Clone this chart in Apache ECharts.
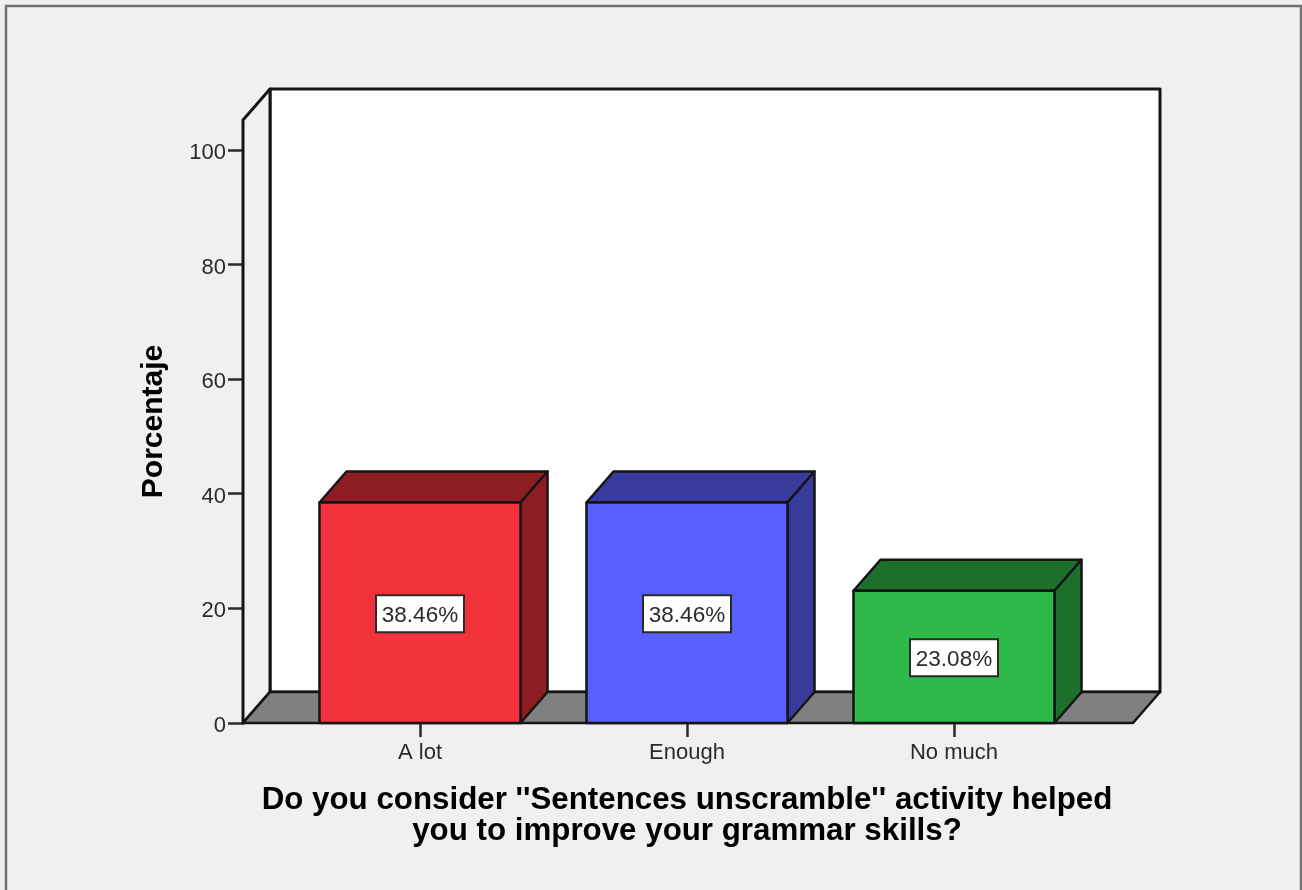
<!DOCTYPE html>
<html>
<head>
<meta charset="utf-8">
<style>
html,body{margin:0;padding:0;background:#f0f0f0;overflow:hidden}
#chart{width:1302px;height:890px}
</style>
<script src="https://cdn.jsdelivr.net/npm/echarts@6/dist/echarts.min.js"></script>
</head>
<body>
<div id="chart"></div>
<script>
// Survey answers, percent of respondents
const categories = ['A lot', 'Enough', 'No much'];
const percentages = [38.46, 38.46, 23.08];
const percentLabels = ['38.46%', '38.46%', '23.08%'];
const yTicks = [0, 20, 40, 60, 80, 100];

// Face colours of each box: front, then the shaded top and side
const frontColors = ['#f2333b', '#5a5fff', '#2fb94a'];
const shadeColors = ['#8e1d22', '#393b9c', '#1d6f2c'];

const xTitle = 'Do you consider \'\'Sentences unscramble\'\' activity helped\nyou to improve your grammar skills?';
const yTitle = 'Porcentaje';

const FONT = '"Liberation Sans", Arial, sans-serif';
const INK = '#2a2a2a';
const DEPTH_X = 27;     // horizontal depth of the oblique projection
const DEPTH_Y = 31;     // vertical depth of the oblique projection
const WALL_LEFT = 243;  // chart box extends past the category band on both sides
const WALL_RIGHT = 1133;
const BAR_RATIO = 0.753;
const TAG_W = 88;
const TAG_H = 37;

function poly(points, fill, width) {
  return {
    type: 'polygon',
    shape: { points: points },
    style: { fill: fill, stroke: '#151515', lineWidth: width, lineJoin: 'round' }
  };
}

// Back wall, side wall and floor of the 3D box
function renderFrame(params, api) {
  const base = api.coord([0, 0])[1];
  const top = params.coordSys.y;
  const l = WALL_LEFT, r = WALL_RIGHT, dx = DEPTH_X, dy = DEPTH_Y;
  return {
    type: 'group',
    children: [
      poly([[l + dx, top - dy], [r + dx, top - dy], [r + dx, base - dy], [l + dx, base - dy]], '#ffffff', 3),
      poly([[l, base], [l + dx, base - dy], [l + dx, top - dy], [l, top]], '#f0f0f0', 3),
      poly([[l, base], [l + dx, base - dy], [r + dx, base - dy], [r, base]], '#808080', 2.5)
    ]
  };
}

// One oblique box per category, with its value tag in the middle of the front face
function renderBar(params, api) {
  const i = api.value(0);
  const v = api.value(1);
  const center = api.coord([i, v])[0];
  const yTop = api.coord([i, v])[1];
  const yBase = api.coord([i, 0])[1];
  const half = api.size([1, 0])[0] * BAR_RATIO / 2;
  const l = center - half, r = center + half;
  const mid = (yTop + yBase) / 2;
  const dx = DEPTH_X, dy = DEPTH_Y;
  const idx = params.dataIndex;
  return {
    type: 'group',
    children: [
      poly([[l, yTop], [l + dx, yTop - dy], [r + dx, yTop - dy], [r, yTop]], shadeColors[idx], 2.5),
      poly([[r, yTop], [r + dx, yTop - dy], [r + dx, yBase - dy], [r, yBase]], shadeColors[idx], 2.5),
      poly([[l, yTop], [r, yTop], [r, yBase], [l, yBase]], frontColors[idx], 2.5),
      {
        type: 'rect',
        shape: { x: center - TAG_W / 2, y: mid + 1 - TAG_H / 2, width: TAG_W, height: TAG_H },
        style: { fill: '#ffffff', stroke: '#2a2a2a', lineWidth: 2 }
      },
      {
        type: 'text',
        x: center,
        y: mid + 3,
        style: {
          text: percentLabels[idx],
          font: '22.5px ' + FONT,
          fill: INK,
          align: 'center',
          verticalAlign: 'middle'
        }
      }
    ]
  };
}

const chart = echarts.init(document.getElementById('chart'), null, { renderer: 'canvas' });
chart.setOption({
  animation: false,
  backgroundColor: '#f0f0f0',
  graphic: [{
    type: 'rect',
    silent: true,
    z: -1,
    shape: { x: 6, y: 6, width: 1295, height: 900 },
    style: { fill: 'transparent', stroke: '#707070', lineWidth: 2.5 }
  }],
  grid: { left: 286.5, width: 801, top: 120, bottom: 167 },
  xAxis: {
    type: 'category',
    data: categories,
    name: xTitle,
    nameLocation: 'middle',
    nameGap: 62,
    nameTextStyle: { fontFamily: FONT, fontWeight: 'bold', fontSize: 31.3, color: '#000', lineHeight: 31 },
    axisLine: { show: false },
    axisTick: { show: true, alignWithLabel: true, length: 14, lineStyle: { color: INK, width: 2.5 } },
    axisLabel: { fontFamily: FONT, fontSize: 22, color: INK, margin: 19 }
  },
  yAxis: {
    type: 'value',
    min: 0,
    max: 105.2,
    interval: 20,
    offset: 43.5,
    name: yTitle,
    nameLocation: 'middle',
    nameGap: 74,
    nameTextStyle: { fontFamily: FONT, fontWeight: 'bold', fontSize: 30, color: '#000' },
    splitLine: { show: false },
    axisLine: { show: true, lineStyle: { color: INK, width: 3 } },
    axisTick: { show: true, length: 15, customValues: yTicks, lineStyle: { color: INK, width: 2.5 } },
    axisLabel: { fontFamily: FONT, fontSize: 22, color: INK, margin: 17, verticalAlign: 'top', lineHeight: 6, customValues: yTicks }
  },
  series: [
    {
      type: 'custom',
      silent: true,
      z: 1,
      coordinateSystem: 'cartesian2d',
      renderItem: renderFrame,
      data: [[0, 0]],
      encode: { x: 0, y: 1 }
    },
    {
      type: 'custom',
      z: 3,
      coordinateSystem: 'cartesian2d',
      renderItem: renderBar,
      data: percentages.map((v, i) => [i, v]),
      encode: { x: 0, y: 1 }
    }
  ]
});
</script>
</body>
</html>
